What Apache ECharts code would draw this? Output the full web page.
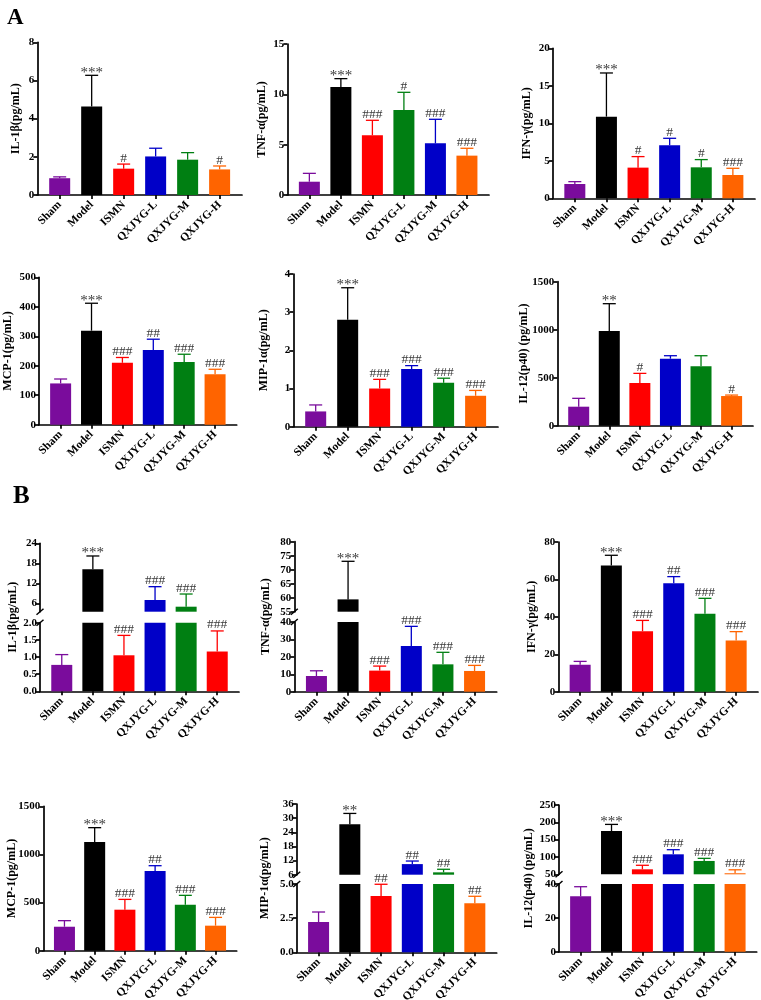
<!DOCTYPE html>
<html><head><meta charset="utf-8">
<script src="https://cdn.jsdelivr.net/npm/echarts@6/dist/echarts.min.js"></script>
<style>html,body{margin:0;padding:0;background:#fff}#c{width:761px;height:1000px}</style>
</head><body><div id="c"></div>
<script>
// ---------- DATA ----------
const categories = ['Sham', 'Model', 'ISMN', 'QXJYG-L', 'QXJYG-M', 'QXJYG-H'];
const colorsStd = ['#7A0C9C', '#000000', '#FF0000', '#0000C8', '#007F12', '#FF6400'];
const colorsSwapLM = ['#7A0C9C', '#000000', '#FF0000', '#007F12', '#0000C8', '#FF6400'];
const colorsRedH = ['#7A0C9C', '#000000', '#FF0000', '#0000C8', '#007F12', '#FF0000'];

// Panel A
const a1Mean = [0.88, 4.63, 1.38, 2.02, 1.85, 1.34];
const a1Sd   = [0.07, 1.64, 0.24, 0.43, 0.37, 0.18];
const a1Sig  = ['', '***', '#', '', '', '#'];
const a1Ticks = [0, 2, 4, 6, 8];

const a2Mean = [1.32, 10.73, 5.93, 8.44, 5.13, 3.91];
const a2Sd   = [0.83, 0.83, 1.49, 1.76, 2.39, 0.73];
const a2Sig  = ['', '***', '###', '#', '###', '###'];
const a2Ticks = [0, 5, 10, 15];

const a3Mean = [1.91, 10.89, 4.09, 7.07, 4.13, 3.11];
const a3Sd   = [0.31, 5.82, 1.47, 0.93, 1.03, 0.89];
const a3Sig  = ['', '***', '#', '#', '#', '###'];
const a3Ticks = [0, 5, 10, 15, 20];

const a4Mean = [140, 319, 210, 253, 213, 171];
const a4Sd   = [15, 93, 18, 37, 26, 17];
const a4Sig  = ['', '***', '###', '##', '###', '###'];
const a4Ticks = [0, 100, 200, 300, 400, 500];

const a5Mean = [0.40, 2.80, 1.00, 1.51, 1.15, 0.81];
const a5Sd   = [0.17, 0.84, 0.24, 0.09, 0.12, 0.14];
const a5Sig  = ['', '***', '###', '###', '###', '###'];
const a5Ticks = [0, 1, 2, 3, 4];

const a6Mean = [198, 986, 444, 698, 618, 309];
const a6Sd   = [87, 285, 101, 31, 111, 10];
const a6Sig  = ['', '**', '#', '', '', '#'];
const a6Ticks = [0, 500, 1000, 1500];

// Panel B
const b1Mean = [0.77, 16.2, 1.05, 7.0, 5.0, 1.16];
const b1Sd   = [0.30, 4.0, 0.58, 4.0, 3.8, 0.60];
const b1Sig  = ['', '***', '###', '###', '###', '###'];
const b1UpperTicks = [6, 12, 18, 24];
const b1LowerTicks = [0, 0.5, 1.0, 1.5, 2.0];

const b2Mean = [9.0, 59.4, 12.1, 26.2, 15.7, 11.9];
const b2Sd   = [3.0, 13.6, 2.6, 11.3, 6.9, 3.2];
const b2Sig  = ['', '***', '###', '###', '###', '###'];
const b2UpperTicks = [55, 60, 65, 70, 75, 80];
const b2LowerTicks = [0, 10, 20, 30, 40];

const b3Mean = [14.4, 67.4, 32.3, 57.9, 41.7, 27.4];
const b3Sd   = [1.8, 5.5, 5.8, 3.6, 8.2, 4.7];
const b3Sig  = ['', '***', '###', '##', '###', '###'];
const b3Ticks = [0, 20, 40, 60, 80];

const b4Mean = [249, 1129, 426, 828, 478, 260];
const b4Sd   = [63, 149, 107, 55, 97, 86];
const b4Sig  = ['', '***', '###', '##', '###', '###'];
const b4Ticks = [0, 500, 1000, 1500];

const b5Mean = [2.22, 27.4, 4.12, 10.5, 7.0, 3.59];
const b5Sd   = [0.73, 4.6, 0.86, 1.3, 1.3, 0.51];
const b5Sig  = ['', '**', '##', '##', '##', '##'];
const b5UpperTicks = [6, 12, 18, 24, 30, 36];
const b5LowerTicks = [0, 2.5, 5.0];

const b6Mean = [32.7, 175, 64.4, 107.7, 88.5, 53];
const b6Sd   = [5.7, 19, 11.6, 13.3, 7.5, 10];
const b6Sig  = ['', '***', '###', '###', '###', '###'];
const b6UpperTicks = [50, 100, 150, 200, 250];
const b6LowerTicks = [0, 20, 40];

// ---------- LAYOUT ----------
const FONT = 'Liberation Serif';
const panels = [
  {mean: a1Mean, sd: a1Sd, sig: a1Sig, colors: colorsStd, name: 'IL-1β(pg/mL)', ticks: a1Ticks, dec: 0, left: 37.3, width: 204.7, top: 42.3, height: 152.7, gap: 15},
  {mean: a2Mean, sd: a2Sd, sig: a2Sig, colors: colorsSwapLM, name: 'TNF-α(pg/mL)', ticks: a2Ticks, dec: 0, left: 287.3, width: 201.7, top: 44, height: 151, gap: 19},
  {mean: a3Mean, sd: a3Sd, sig: a3Sig, colors: colorsStd, name: 'IFN-γ(pg/mL)', ticks: a3Ticks, dec: 0, left: 552.7, width: 202.3, top: 48.3, height: 150, gap: 20},
  {mean: a4Mean, sd: a4Sd, sig: a4Sig, colors: colorsStd, name: 'MCP-1(pg/mL)', ticks: a4Ticks, dec: 0, left: 39, width: 197.7, top: 277.3, height: 147.4, gap: 25},
  {mean: a5Mean, sd: a5Sd, sig: a5Sig, colors: colorsStd, name: 'MIP-1α(pg/mL)', ticks: a5Ticks, dec: 0, left: 293.3, width: 204.7, top: 274, height: 152.7, gap: 23},
  {mean: a6Mean, sd: a6Sd, sig: a6Sig, colors: colorsStd, name: 'IL-12(p40) (pg/mL)', ticks: a6Ticks, dec: 0, left: 557.3, width: 195.7, top: 281.7, height: 144, gap: 27},
  {mean: b1Mean, sd: b1Sd, sig: b1Sig, colors: colorsRedH, name: 'IL-1β(pg/mL)', left: 40, width: 199, gap: 21,
    upper: {top: 543.3, height: 68.4, min: 3.5, max: 24, ticks: b1UpperTicks, dec: 0},
    lower: {top: 622.7, height: 68.6, min: 0, max: 2, ticks: b1LowerTicks, dec: 1}},
  {mean: b2Mean, sd: b2Sd, sig: b2Sig, colors: colorsStd, name: 'TNF-α(pg/mL)', left: 294.3, width: 202.4, gap: 22,
    upper: {top: 541.7, height: 70, min: 55, max: 80, ticks: b2UpperTicks, dec: 0},
    lower: {top: 622, height: 69.7, min: 0, max: 40, ticks: b2LowerTicks, dec: 0}},
  {mean: b3Mean, sd: b3Sd, sig: b3Sig, colors: colorsStd, name: 'IFN-γ(pg/mL)', ticks: b3Ticks, dec: 0, left: 558.3, width: 199.7, top: 542, height: 149.7, gap: 20},
  {mean: b4Mean, sd: b4Sd, sig: b4Sig, colors: colorsStd, name: 'MCP-1(pg/mL)', ticks: b4Ticks, dec: 0, left: 43.3, width: 193.4, top: 806.3, height: 144.4, gap: 25},
  {mean: b5Mean, sd: b5Sd, sig: b5Sig, colors: colorsStd, name: 'MIP-1α(pg/mL)', left: 296.7, width: 200, gap: 26,
    upper: {top: 804, height: 70.7, min: 6, max: 36, ticks: b5UpperTicks, dec: 0},
    lower: {top: 884, height: 68.3, min: 0, max: 5, ticks: b5LowerTicks, dec: 1}},
  {mean: b6Mean, sd: b6Sd, sig: b6Sig, colors: colorsStd, name: 'IL-12(p40) (pg/mL)', left: 559, width: 197.7, gap: 24,
    upper: {top: 805, height: 69.3, min: 50, max: 250, ticks: b6UpperTicks, dec: 0},
    lower: {top: 884, height: 67.7, min: 0, max: 40, ticks: b6LowerTicks, dec: 0}}
];

// ---------- BUILD ----------
const idx = [0, 1, 2, 3, 4, 5];
const axisLineStyle = {color: '#000', width: 1.7};
const option = {
  animation: false, backgroundColor: '#fff',
  title: [
    {text: 'A', left: 2, top: 2, textStyle: {fontFamily: FONT, fontWeight: 'bold', fontSize: 23, color: '#000'}},
    {text: 'B', left: 8, top: 479, textStyle: {fontFamily: FONT, fontWeight: 'bold', fontSize: 25, color: '#000'}}
  ],
  grid: [], xAxis: [], yAxis: [], series: []
};

function addGrid(left, top, width, height) {
  option.grid.push({left, top, width, height, outerBoundsMode: 'none', containLabel: false});
  return option.grid.length - 1;
}
function addX(gi, show) {
  option.xAxis.push({
    type: 'value', gridIndex: gi, min: -0.7, max: 5.7, show: show,
    splitLine: {show: false},
    axisLine: {show: true, onZero: false, lineStyle: axisLineStyle},
    axisTick: {show: true, customValues: idx, length: 4, lineStyle: axisLineStyle},
    axisLabel: {show: true, customValues: idx, rotate: 45, margin: 8,
      formatter: v => categories[Math.round(v)] || '',
      fontFamily: FONT, fontWeight: 'bold', fontSize: 11.5, color: '#000'}
  });
  return option.xAxis.length - 1;
}
function addY(gi, min, max, ticks, dec, name, gap, hidden) {
  const ax = {
    type: 'value', gridIndex: gi, min, max,
    splitLine: {show: false},
    axisLine: {show: !hidden, onZero: false, lineStyle: axisLineStyle},
    axisTick: {show: !hidden, customValues: ticks, length: 4, lineStyle: axisLineStyle},
    axisLabel: {show: !hidden, customValues: ticks, margin: 3, formatter: v => Number(v).toFixed(dec),
      fontFamily: FONT, fontWeight: 'bold', fontSize: 11, color: '#000'}
  };
  if (name) {
    Object.assign(ax, {name, nameLocation: 'middle', nameGap: gap, nameMoveOverlap: false,
      nameTextStyle: {fontFamily: FONT, fontWeight: 'bold', fontSize: 12, color: '#000'}});
  }
  option.yAxis.push(ax);
  return option.yAxis.length - 1;
}
function addBars(xi, yi, p) {
  option.series.push({
    type: 'bar', xAxisIndex: xi, yAxisIndex: yi, barWidth: 21, clip: true,
    data: p.mean.map((v, i) => ({value: [i, v], itemStyle: {color: p.colors[i]}}))
  });
}
function addErr(xi, yi, p, which) {
  option.series.push({
    type: 'custom', xAxisIndex: xi, yAxisIndex: yi, clip: false,
    encode: {x: 0, y: 1},
    data: which.map(i => [i, p.mean[i], p.sd[i]]),
    renderItem: (params, api) => {
      const i = Math.round(api.value(0));
      const m = api.value(1), s = api.value(2);
      const b = api.coord([i, m]);
      const t = api.coord([i, m + s]);
      const col = p.colors[i];
      const ls = {stroke: col, lineWidth: 1.3};
      const ch = [
        {type: 'line', shape: {x1: b[0], y1: b[1], x2: t[0], y2: t[1]}, style: ls},
        {type: 'line', shape: {x1: t[0] - 6.5, y1: t[1], x2: t[0] + 6.5, y2: t[1]}, style: ls}
      ];
      const sg = p.sig[i];
      if (sg) {
        const star = sg.indexOf('*') >= 0;
        ch.push({type: 'text', style: {x: t[0], y: t[1] + (star ? 5 : 1), text: sg,
          fontFamily: FONT, fontSize: star ? 15 : 13.5, fill: '#3a3a3a', align: 'center', verticalAlign: 'bottom'}});
      }
      return {type: 'group', children: ch};
    }
  });
}
function addBreak(xi, yi, yv) {
  option.series.push({
    type: 'custom', xAxisIndex: xi, yAxisIndex: yi, clip: false, silent: true,
    encode: {x: 0, y: 1}, data: [[-0.7, yv]],
    renderItem: (params, api) => {
      const c = api.coord([api.value(0), api.value(1)]);
      return {type: 'line', shape: {x1: c[0] - 3.5, y1: c[1] + 3, x2: c[0] + 3.5, y2: c[1] - 3},
        style: {stroke: '#000', lineWidth: 1.5}};
    }
  });
}

panels.forEach(p => {
  if (!p.upper) {
    const g = addGrid(p.left, p.top, p.width, p.height);
    const xi = addX(g, true);
    const yi = addY(g, 0, p.ticks[p.ticks.length - 1], p.ticks, p.dec, p.name, p.gap, false);
    addBars(xi, yi, p);
    addErr(xi, yi, p, idx);
  } else {
    const U = p.upper, L = p.lower;
    const gn = addGrid(p.left, U.top, p.width, L.top + L.height - U.top);
    addX(gn, false);
    addY(gn, 0, 1, [], 0, p.name, p.gap, true);
    const gl = addGrid(p.left, L.top, p.width, L.height);
    const xl = addX(gl, true);
    const yl = addY(gl, L.min, L.max, L.ticks, L.dec, null, 0, false);
    addBars(xl, yl, p);
    addErr(xl, yl, p, idx.filter(i => p.mean[i] <= L.max));
    addBreak(xl, yl, L.max);
    const gu = addGrid(p.left, U.top, p.width, U.height);
    const xu = addX(gu, false);
    const yu = addY(gu, U.min, U.max, U.ticks, U.dec, null, 0, false);
    addBars(xu, yu, p);
    addErr(xu, yu, p, idx.filter(i => p.mean[i] > L.max));
    addBreak(xu, yu, U.min);
  }
});

const chart = echarts.init(document.getElementById('c'), null, {renderer: 'canvas', width: 761, height: 1000});
chart.setOption(option);
</script>
</body></html>
